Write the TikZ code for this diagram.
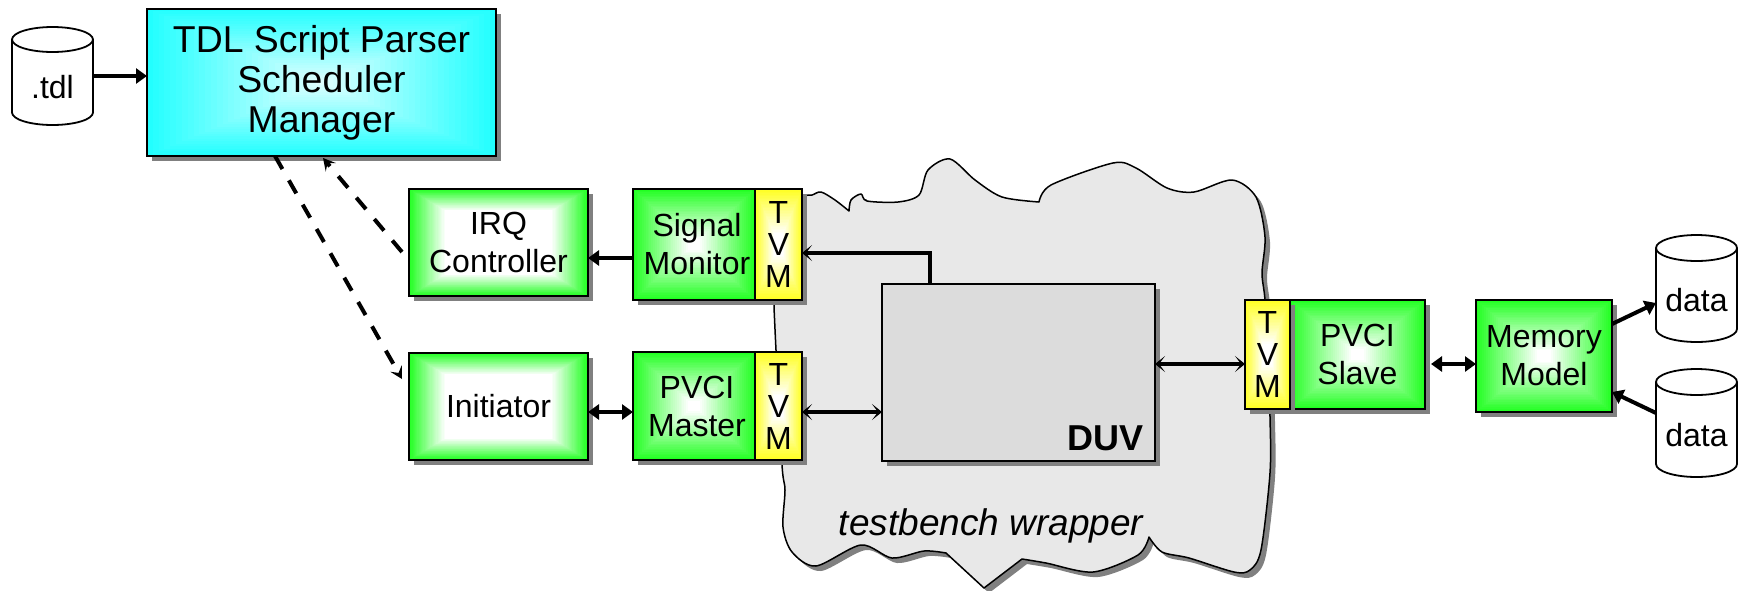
\documentclass[tikz,border=0pt]{standalone}
\usepackage{fontspec}
\setmainfont{Liberation Sans}
\usetikzlibrary{calc,shadows,arrows.meta}
\definecolor{shadowgray}{HTML}{808080}
\definecolor{cloudgray}{HTML}{E8E8E8}
\definecolor{duvgray}{HTML}{DCDCDC}
\definecolor{boxgreen}{HTML}{22FF22}
\definecolor{boxcyan}{HTML}{22FFFF}
\definecolor{boxyellow}{HTML}{FFFF22}
\newcommand{\boxgrad}[3]{%
  \foreach \k in {0,...,30}{%
    \pgfmathsetmacro\gt{\k/30*#3/2}%
    \pgfmathsetmacro\mx{\k/30*#2}%
    \fill[white!\mx!#1] ($(path picture bounding box.north west)!\gt!(path picture bounding box.south east)$) rectangle ($(path picture bounding box.south east)!\gt!(path picture bounding box.north west)$);
  }}
\newcommand{\tube}[2]{% node name, ellipse y radius
  \draw[cyl] ($(#1.north west)+(0,-#2)$) -- ($(#1.south west)+(0,-#2)$)
    arc[start angle=180,end angle=360,x radius=40.5pt,y radius=#2pt]
    -- ($(#1.north east)+(0,-#2)$)
    arc[start angle=0,end angle=180,x radius=40.5pt,y radius=#2pt]
    arc[start angle=180,end angle=360,x radius=40.5pt,y radius=#2pt];}
\def\cloudpath{
  plot[smooth,tension=.5] coordinates {(774,307) (776,260) (790,205) (803,196) (812,195) (821,192) (835,200) (849,211)}
  -- plot[smooth,tension=.5] coordinates {(849,211) (851,200) (861,194) (867,201) (898,202) (919,195) (928,170) (950,159) (975,180) (1002,197) (1039,202)}
  -- plot[smooth,tension=.5] coordinates {(1039,202) (1051,185) (1113,163) (1136,168) (1167,188) (1194,192) (1232,180) (1256,197) (1265,237) (1262,273) (1265,300) (1268,360) (1270,417) (1270,473) (1261,550) (1250,570) (1234,572) (1189,558) (1162,552) (1149,537)}
  -- plot[smooth,tension=.5] coordinates {(1149,537) (1138,555) (1093,572) (1046,563) (1022,559)}
  -- (984,588) -- (946,553)
  -- plot[smooth,tension=.5] coordinates {(946,553) (924,551) (892,558) (861,545) (816,566) (792,552) (783,527) (785,490) (782,465) (776,350) (774,307)}
  -- cycle}
\tikzset{
  x=1pt,y=-1pt,
  lbl/.style={font=\fontsize{32}{38}\selectfont},
  gradbox/.style n args={3}{rectangle,draw=black,line width=2pt,inner sep=0pt,outer sep=0pt,align=center,
    general shadow={fill=shadowgray,draw=none,shadow xshift=5pt,shadow yshift=-5pt},
    path picture={\boxgrad{#1}{#2}{#3}}},
  greenbox/.style={gradbox={boxgreen}{100}{0.9},lbl},
  widegreen/.style={gradbox={boxgreen}{100}{0.4},lbl},
  tvmbox/.style={gradbox={boxyellow}{100}{0.8},font=\fontsize{32}{32}\selectfont},
  cyl/.style={draw=black,line width=1.8pt},
  cylbody/.style={rectangle,inner sep=0pt,outer sep=0pt,lbl},
  link/.style={draw=black,line width=4pt,-{Triangle[length=11pt,width=15pt]}},
  dlink/.style={draw=black,line width=4pt,{Triangle[length=11pt,width=15pt]}-{Triangle[length=11pt,width=15pt]}},
  thinlink/.style={draw=black,line width=3.6pt,-{Stealth[length=10pt,width=16pt,inset=6pt]}},
  dthinlink/.style={draw=black,line width=3.6pt,{Stealth[length=10pt,width=16pt,inset=6pt]}-{Stealth[length=10pt,width=16pt,inset=6pt]}},
  dashlink/.style={draw=black,line width=4pt,dash pattern=on 15pt off 13pt,-{Stealth[length=12pt,width=13pt,inset=5pt]}},
}
\begin{document}
\begin{tikzpicture}
\useasboundingbox (0,0) rectangle (1738,590);
\fill[white] (0,0) rectangle (1738,590);
% wrapper cloud
\fill[shadowgray,xshift=5pt,yshift=-5pt] \cloudpath;
\draw[fill=cloudgray,draw=black,line width=1.5pt,line join=round] \cloudpath;
\node[font=\fontsize{37}{37}\selectfont\itshape,anchor=base,inner sep=0pt] (wrap) at (991,535) {testbench wrapper};
% nodes
\node[gradbox={boxcyan}{88}{1},font=\fontsize{37.4}{40}\selectfont,minimum width=349pt,minimum height=147pt] (main) at (321.5,82.5) {\raisebox{1.5pt}{TDL Script Parser}\\\raisebox{1.5pt}{Scheduler}\\\raisebox{1.5pt}{Manager}};
\node[widegreen,minimum width=179pt,minimum height=107pt] (irq) at (498.5,242.5) {IRQ\\Controller};
\node[widegreen,minimum width=179pt,minimum height=107pt] (init) at (498.5,406.5) {Initiator};
\node[greenbox,minimum width=122pt,minimum height=111pt] (sm) at (694,244.5) {\hspace*{6pt}Signal\\\hspace*{6pt}Monitor};
\node[tvmbox,minimum width=47pt,minimum height=111pt] (tvma) at (778.5,244.5) {T\\V\\M};
\node[greenbox,minimum width=122pt,minimum height=108pt] (pm) at (694,406) {\hspace*{6pt}PVCI\\\hspace*{6pt}Master};
\node[tvmbox,minimum width=47pt,minimum height=108pt] (tvmb) at (778.5,406) {T\\V\\M};
\node[rectangle,draw=black,line width=2pt,fill=duvgray,inner sep=0pt,outer sep=0pt,minimum width=273pt,minimum height=177pt,
  general shadow={fill=shadowgray,draw=none,shadow xshift=5pt,shadow yshift=-5pt}] (duv) at (1018.5,372.5) {};
\node[font=\fontsize{36}{36}\selectfont\bfseries,anchor=base east,inner sep=0pt] (duvlabel) at (1143.5,450) {DUV};
\node[greenbox,minimum width=135pt,minimum height=109pt] (ps) at (1357.5,354.5) {PVCI\\Slave};
\node[tvmbox,minimum width=45pt,minimum height=109pt] (tvmc) at (1267.5,354.5) {T\\V\\M};
\node[greenbox,minimum width=136pt,minimum height=112pt] (mem) at (1544,356) {Memory\\Model};
\node[cylbody,minimum width=81pt,minimum height=73pt] (tdl) at (52.5,88.5) {\raisebox{3pt}{.tdl}};
\tube{tdl}{12.5}
\node[cylbody,minimum width=81pt,minimum height=81pt] (dataa) at (1696.5,301.5) {\raisebox{3pt}{data}};
\tube{dataa}{13}
\node[cylbody,minimum width=81pt,minimum height=82pt] (datab) at (1696.5,436) {\raisebox{3pt}{data}};
\tube{datab}{13}
% free ends of dashed connectors
\coordinate (irqout) at (402,252);
\coordinate (initin) at (402,379);
\coordinate (mainout) at (275,156);
\coordinate (mainin) at (323,158);
% connectors
\draw[link] ($(tdl.east)+(0,-12.5)$) -- ($(main.west)+(0,-6.5)$);
\draw[dashlink] (mainout) -- (initin);
\draw[dashlink] (irqout) -- (mainin);
\draw[link] ($(sm.west)+(0,13.5)$) -- ($(irq.east)+(0,15.5)$);
\draw[dlink] ($(init.east)+(0,5.5)$) -- ($(pm.west)+(0,6)$);
\draw[thinlink] (duv.north -| 930,0) -- (930,253) -- (tvma.east |- 0,253);
\draw[dthinlink] ($(tvmb.east)+(0,6)$) -- ($(duv.west)+(0,39.5)$);
\draw[dthinlink] ($(duv.east)+(0,-8.5)$) -- ($(tvmc.west)+(0,9.5)$);
\draw[dlink] ($(ps.east)+(6,9.5)$) -- ($(mem.west)+(0,8)$);
\draw[link] ($(mem.east)+(0,-32)$) -- ($(dataa.west)+(0,1.5)$);
\draw[link] ($(datab.west)+(0,-23)$) -- ($(mem.east)+(0,36)$);
\end{tikzpicture}
\end{document}
